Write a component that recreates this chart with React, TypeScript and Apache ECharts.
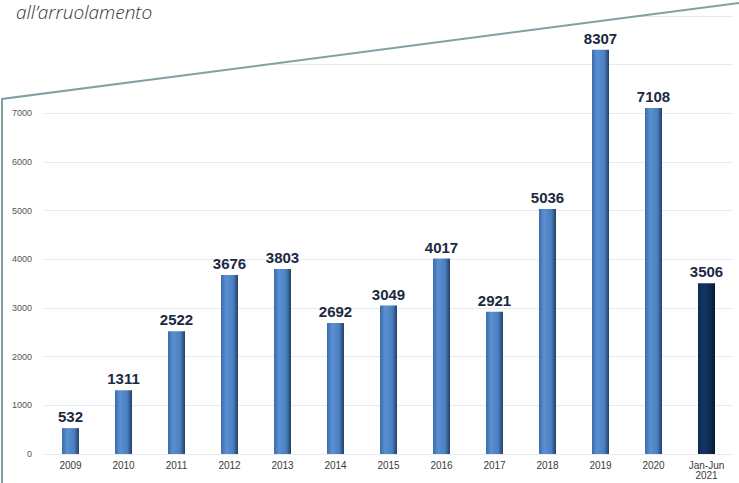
import React, { useEffect, useRef } from "react";
import * as echarts from "echarts";

const categories = ["2009", "2010", "2011", "2012", "2013", "2014", "2015", "2016", "2017", "2018", "2019", "2020", "Jan-Jun\n2021"];
const values = [532, 1311, 2522, 3676, 3803, 2692, 3049, 4017, 2921, 5036, 8307, 7108, 3506];
const highlightIndex = 12;
const titleText = "all’arruolamento";

const blueGrad = new echarts.graphic.LinearGradient(0, 0, 1, 0, [
  { offset: 0, color: "#3C6BA9" },
  { offset: 0.3, color: "#5A90D1" },
  { offset: 0.72, color: "#4A7FC0" },
  { offset: 1, color: "#233F66" },
]);
const navyGrad = new echarts.graphic.LinearGradient(0, 0, 1, 0, [
  { offset: 0, color: "#0E2B52" },
  { offset: 0.35, color: "#123463" },
  { offset: 0.75, color: "#0C2A50" },
  { offset: 1, color: "#061A33" },
]);

export default function App() {
  const ref = useRef<HTMLDivElement>(null);
  useEffect(() => {
    const chart = echarts.init(ref.current!, null, { renderer: "svg" });
    chart.setOption({
      animation: false,
      backgroundColor: "#ffffff",
      grid: { left: 44, right: 6, top: 16, bottom: 29, containLabel: false },
      xAxis: {
        type: "category",
        data: categories,
        axisLine: { show: false },
        axisTick: { show: false },
        axisLabel: {
          color: "#3a3a3a",
          fontSize: 10,
          fontFamily: "Liberation Sans, Arial, sans-serif",
          margin: 6,
          lineHeight: 10,
        },
      },
      yAxis: {
        type: "value",
        min: 0,
        max: 9000,
        interval: 1000,
        axisLine: { show: false },
        axisTick: { show: false },
        splitLine: { lineStyle: { color: "#E4EAEE", width: 1 } },
        axisLabel: {
          color: "#555555",
          fontSize: 9,
          margin: 12,
          fontFamily: "Liberation Sans, Arial, sans-serif",
          formatter: (v: number) => (v > 7000 ? "" : String(v)),
        },
      },
      series: [
        {
          type: "bar",
          barWidth: 17,
          data: values.map((v, i) => ({
            value: v,
            itemStyle: { color: i === highlightIndex ? navyGrad : blueGrad },
          })),
          label: {
            show: true,
            position: "top",
            distance: 4,
            color: "#1B2A40",
            fontSize: 15,
            fontWeight: "bold",
            fontFamily: "Liberation Sans, Arial, sans-serif",
          },
        },
      ],
      graphic: [
        {
          type: "polygon",
          z: 100,
          silent: true,
          shape: { points: [[0, 0], [739, 0], [739, 3], [2, 99], [0, 99]] },
          style: { fill: "#ffffff" },
        },
        {
          type: "polyline",
          z: 101,
          silent: true,
          shape: { points: [[2, 483], [2, 99], [739, 3]] },
          style: { stroke: "#82A0A4", lineWidth: 2, fill: null },
        },
        {
          type: "text",
          z: 102,
          silent: true,
          x: 16,
          y: 2,
          style: {
            text: titleText,
            fill: "#333333",
            fontSize: 19,
            fontStyle: "italic",
            fontWeight: 300,
            fontFamily: "Open Sans, sans-serif",
            verticalAlign: "top",
            align: "left",
          },
        },
      ],
    });
    return () => chart.dispose();
  }, []);
  return (
    <div
      ref={ref}
      style={{ position: "fixed", left: 0, top: 0, width: 739, height: 483 }}
    />
  );
}
